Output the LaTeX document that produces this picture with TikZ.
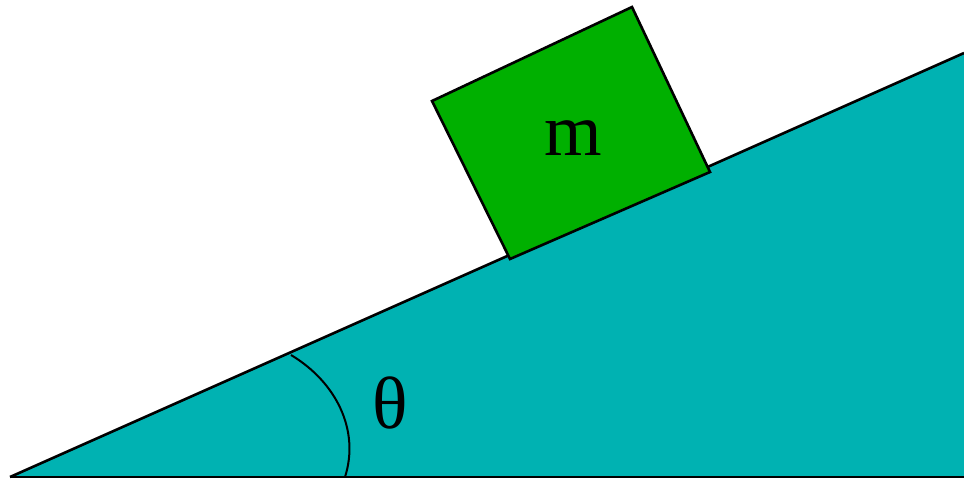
\documentclass[tikz,border=0pt]{standalone}
\usepackage{fontspec}
\setmainfont{Liberation Serif}
\definecolor{rampteal}{RGB}{0,178,178}
\definecolor{blockgreen}{RGB}{0,176,0}
\tikzset{
  outline/.style={draw=black, line width=2.6pt, line join=miter},
  lbl/.style={font=\fontsize{74}{80}\selectfont, inner sep=0pt}
}
\begin{document}
\begin{tikzpicture}[x=1pt,y=-1pt]
\useasboundingbox (0,0) rectangle (964,480);
% ramp
\coordinate (A) at (10,477);
\coordinate (B) at (964,53);
\coordinate (C) at (964,477);
\fill[rampteal] (A) -- (B) -- (C) -- cycle;
\draw[outline] (A) -- (B);
\draw[outline] (A) -- (C);
% block
\coordinate (P1) at (432,101);
\coordinate (P2) at (632,7);
\coordinate (P3) at (710,172);
\coordinate (P4) at (510,259);
\draw[outline, fill=blockgreen] (P1) -- (P2) -- (P3) -- (P4) -- cycle;
\node[lbl] (m) at (573,138) {m};
% angle arc
\coordinate (T1) at (291,355);
\coordinate (T2) at (345,477);
\draw[line width=2pt] (T1) .. controls (336,382) and (360,430) .. (T2);
\node[lbl] (theta) at (390,403) {θ};
\end{tikzpicture}
\end{document}
